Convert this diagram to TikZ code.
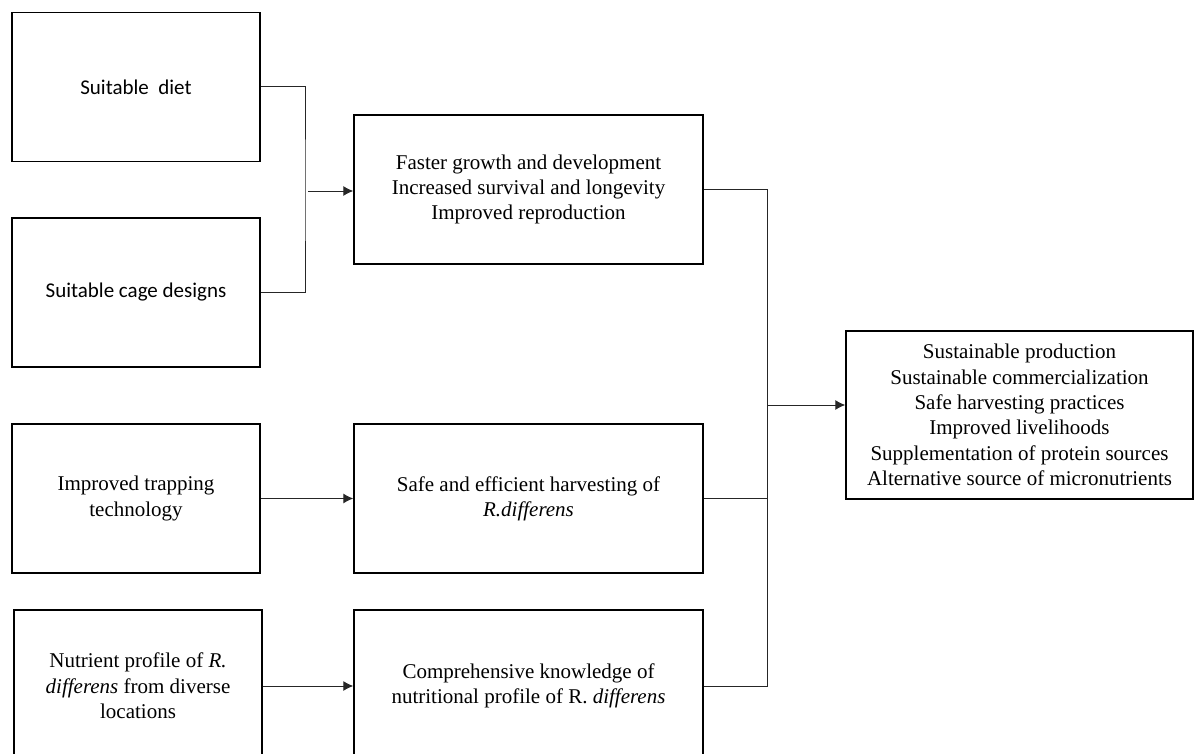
\documentclass[tikz,border=0pt]{standalone}
\usepackage{fontspec}
\setmainfont{Liberation Serif}
\newfontfamily\calibri{Carlito}
\usetikzlibrary{arrows.meta}
\tikzset{
  box_/.style   = {shape=rectangle, draw, line width=1.4pt, align=center, inner sep=0pt},
  cause_/.style = {box_, minimum width=248, minimum height=149},
  effect_/.style = {box_, minimum width=349, minimum height=149},
  goal_/.style  = {box_, minimum width=347, minimum height=168},
  link_/.style  = {draw, line width=1pt, black!85}
}

\begin{document}
\begin{tikzpicture}
		[
		x = 1pt, y = -1pt,
		every node/.style = {font=\fontsize{21}{25.3}\selectfont},
		edge_/.style      = {link_, -{Latex[length=10pt,width=10pt]}}
		]
		\clip (0,0) rectangle (1198,754);
		% inputs
		\node [cause_, font=\calibri\fontsize{21}{25.3}\selectfont] (diet) at (136,87) {Suitable\ \ diet};
		\node [cause_, font=\calibri\fontsize{21}{25.3}\selectfont] (cage) at (136,292.5) {Suitable cage designs};
		\node [cause_] (trap) at (136,498.5) {Improved trapping\\technology};
		\node [cause_, minimum height=152] (nutr) at (138,686) {Nutrient profile of \textit{R.}\\\textit{differens} from diverse\\locations};
		% effects
		\node [effect_] (growth) at (528.5,189.5) {Faster growth and development\\Increased survival and longevity\\Improved reproduction};
		\node [effect_] (harvest) at (528.5,498.5) {Safe and efficient harvesting of\\\textit{R.differens}};
		\node [effect_, minimum height=152] (know) at (528.5,686) {Comprehensive knowledge of\\nutritional profile of R. \textit{differens}};
		% outcome
		\node [goal_] (outcome) at (1019.5,415) {Sustainable production\\Sustainable commercialization\\Safe harvesting practices\\Improved livelihoods\\Supplementation of protein sources\\Alternative source of micronutrients};
		\coordinate (joinL) at (305,191);
		\coordinate (joinR) at (767,405);
		\draw [link_] (diet.east) -| (joinL) |- (cage.east);
		\draw [edge_] ([xshift=3]joinL) -- (joinL -| growth.west);
		\draw [edge_] (trap) -- (harvest);
		\draw [edge_] (nutr) -- (know);
		\draw [link_] (growth.east) -| (joinR) |- (know.east);
		\draw [link_] (harvest.east) -- (harvest.east -| joinR);
		\draw [edge_] (joinR) -- (joinR -| outcome.west);
\end{tikzpicture}
\end{document}
